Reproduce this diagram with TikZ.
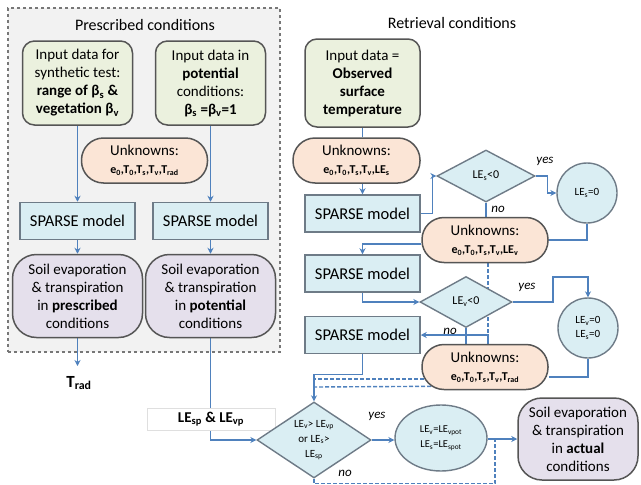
\documentclass[tikz,border=0pt]{standalone}
\usepackage{fontspec}
\setmainfont{Carlito}
\usetikzlibrary{shapes.geometric,arrows.meta}
\pgfdeclarelayer{bg}\pgfdeclarelayer{lines}
\pgfsetlayers{bg,lines,main}
\newcommand{\sbs}[1]{\textsubscript{#1}}
\definecolor{arr}{HTML}{4F81BD}
\definecolor{bord}{HTML}{555555}
\definecolor{bord2}{HTML}{6E7B87}
\definecolor{grn}{HTML}{EBF1DE}
\definecolor{pch}{HTML}{FBE5D6}
\definecolor{blu}{HTML}{DAEEF3}
\definecolor{lav}{HTML}{E5E0EC}
\definecolor{gbox}{HTML}{F2F2F2}
\tikzset{
  base/.style={draw=bord, line width=1.5pt, align=center, inner sep=0pt, font=\fontsize{15}{18}\selectfont},
  inbox/.style={base, fill=grn, rounded corners=12pt, minimum width=110pt, minimum height=84pt},
  unk/.style={base, fill=pch, rounded corners=22pt, minimum width=126pt, minimum height=45pt},
  sparse/.style={base, draw=bord2, fill=blu, minimum width=115pt, minimum height=37pt, font=\fontsize{16.5}{18}\selectfont},
  soil/.style={base, fill=lav, rounded corners=24pt, minimum width=130pt, minimum height=83pt},
  dia/.style={diamond, draw=bord2, fill=blu, line width=1.4pt, inner sep=0pt},
  circ/.style={circle, draw=bord2, fill=blu, line width=1.4pt, minimum size=60pt, inner sep=0pt, align=center, font=\fontsize{11}{14}\selectfont},
  txt/.style={align=center, inner sep=0pt},
  lbl/.style={inner sep=0pt, font=\fontsize{13}{14}\selectfont\itshape},
  conn/.style={draw=arr, line width=1.4pt},
  arrow/.style={conn, -{Stealth[length=6pt,width=6pt]}},
  dsh/.style={conn, dash pattern=on 4pt off 2pt},
}
\newcommand{\unkline}[1]{{\fontsize{12}{13}\selectfont\bfseries #1}}
\begin{document}
\begin{tikzpicture}[x=1pt,y=-1pt]
\useasboundingbox (0,0) rectangle (641,485);
\begin{pgfonlayer}{bg}
\node[draw=bord!80, dashed, fill=gbox, line width=1.3pt, minimum width=272pt, minimum height=344pt, inner sep=0pt] (lbox) at (144,180) {};
\end{pgfonlayer}
% titles
\node[font=\fontsize{16}{18}\selectfont] (t1) at (145,25) {Prescribed conditions};
\node[font=\fontsize{16}{18}\selectfont] (t2) at (452,23) {Retrieval conditions};
% left
\node[inbox] (in1) at (77.5,83) {Input data for\\synthetic test:\\\textbf{range of β\sbs{s} \&}\\\textbf{vegetation β\sbs{v}}};
\node[inbox] (in2) at (210.5,83) {Input data in\\\textbf{potential}\\conditions:\\\textbf{β\sbs{s} =β\sbs{v}=1}};
\node[unk] (unk1) at (144.5,160.5) {Unknowns:\\\unkline{e\sbs{0},T\sbs{0},T\sbs{s},T\sbs{v},T\sbs{rad}}};
\node[sparse] (sp1) at (77.5,221) {SPARSE model};
\node[sparse] (sp2) at (210.5,221) {SPARSE model};
\node[soil] (soil1) at (77.5,296) {Soil evaporation\\\& transpiration\\in \textbf{prescribed}\\conditions};
\node[soil] (soil2) at (210.5,296) {Soil evaporation\\\& transpiration\\in \textbf{potential}\\conditions};
\coordinate (tradend) at (77.5,366);
\node[font=\fontsize{17}{18}\selectfont\bfseries] (trad) at (79,383) {T\sbs{rad}};
\node[draw=gray!25, fill=white, line width=0.8pt, minimum width=128pt, minimum height=22pt, inner sep=0pt, font=\fontsize{15}{18}\selectfont\bfseries] (lebox) at (211,419) {LE\sbs{sp} \& LE\sbs{vp}};
% right
\node[inbox, minimum width=115pt, minimum height=88pt] (in3) at (362.5,83) {Input data =\\\textbf{Observed}\\\textbf{surface}\\\textbf{temperature}};
\node[unk, minimum width=127pt] (unk2) at (356.5,160.5) {Unknowns:\\\unkline{e\sbs{0},T\sbs{0},T\sbs{s},T\sbs{v},LE\sbs{s}}};
\node[sparse] (sp3) at (362.5,213.5) {SPARSE model};
\node[dia, minimum width=98pt, minimum height=52pt] (d1) at (486,176) {};
\node[txt, font=\fontsize{12}{14}\selectfont] (d1t) at (d1) {LE\sbs{s}<0};
\node[circ] (c1) at (587,193) {LE\sbs{s}=0};
\node[unk] (unk3) at (485,240) {Unknowns:\\\unkline{e\sbs{0},T\sbs{0},T\sbs{s},T\sbs{v},LE\sbs{v}}};
\node[sparse] (sp4) at (362.5,273.5) {SPARSE model};
\node[dia, minimum width=92pt, minimum height=51pt] (d2) at (466,302) {};
\node[txt, font=\fontsize{12}{14}\selectfont] (d2t) at (d2) {LE\sbs{v}<0};
\node[circ] (c2) at (588,328) {LE\sbs{v}=0\\LE\sbs{s}=0};
\node[sparse] (sp5) at (362.5,335) {SPARSE model};
\node[unk] (unk4) at (485,367) {Unknowns:\\\unkline{e\sbs{0},T\sbs{0},T\sbs{s},T\sbs{v},T\sbs{rad}}};
\node[dia, minimum width=114pt, minimum height=76pt] (d3) at (314,440) {};
\node[txt, font=\fontsize{11}{15}\selectfont] (d3t) at (d3) {LE\sbs{v}> LE\sbs{vp}\\or LE\sbs{s}>\\LE\sbs{sp}};
\node[ellipse, draw=bord2, fill=blu, line width=1.4pt, minimum width=92pt, minimum height=66pt, inner sep=0pt, align=center, font=\fontsize{10.5}{15}\selectfont] (ell) at (441,438) {LE\sbs{v}=LE\sbs{vpot}\\LE\sbs{s}=LE\sbs{spot}};
\node[soil, minimum width=120pt, minimum height=82pt] (fin) at (578,439) {Soil evaporation\\\& transpiration\\in \textbf{actual}\\conditions};
\coordinate (jn) at (495,440);
% labels
\node[lbl] (yes1) at (545,161) {yes};
\node[lbl] (no1) at (498,209) {no};
\node[lbl] (yes2) at (527,287) {yes};
\node[lbl] (no2) at (450,331) {no};
\node[lbl] (yes3) at (377,416) {yes};
\node[lbl] (no3) at (345,473) {no};
% connectors
\begin{pgfonlayer}{lines}
\draw[arrow] (in1.south) -- (sp1.north);
\draw[arrow] (in2.south) -- (sp2.north);
\draw[arrow] (sp1.south) -- (soil1.north);
\draw[arrow] (sp2.south) -- (soil2.north);
\draw[arrow] (soil1.south) -- (tradend);
\draw[arrow] (soil2.south) |- (d3.west);
\draw[conn] (in3.south) -- (in3.south |- unk2.north);
\draw[arrow] (sp3.north |- unk2.south) -- (sp3.north);
\draw[arrow] (sp3.east) -- ++(12,0) |- (d1.west);
\draw[arrow] (d1.east) -- ++(12,0) |- (c1.west);
\draw[conn] (d1.south) -- (d1.south |- unk3.north);
\draw[conn] (c1.south) |- (unk3.east);
\draw[arrow] ([yshift=-4pt]unk3.west) -| (sp4.north);
\draw[arrow] (sp4.south) |- (d2.west);
\draw[arrow] (d2.east) -| (553,277) -| (c2.north);
\draw[conn] (c2.south) |- ([yshift=-10pt]unk4.east);
\draw[conn] (d2.south) -- (d2.south |- unk4.north);
\draw[arrow] ([xshift=3pt]unk4.north) |- (sp5.east);
\draw[dsh] ([xshift=3pt]unk3.south) |- (d3.north |- 0,379);
\draw[dsh] ([yshift=-19pt]unk4.center) -- (d3.north |- 0,387);
\draw[arrow] (sp5.south) -- ++(0,20) -| (d3.north);
\draw[arrow] (d3.east) -- (ell.west |- d3.east);
\draw[arrow] (ell.east |- fin.west) -- (fin.west);
\draw[dsh] (d3.south) -- ++(0,5) -| (jn);
\end{pgfonlayer}
\end{tikzpicture}
\end{document}
